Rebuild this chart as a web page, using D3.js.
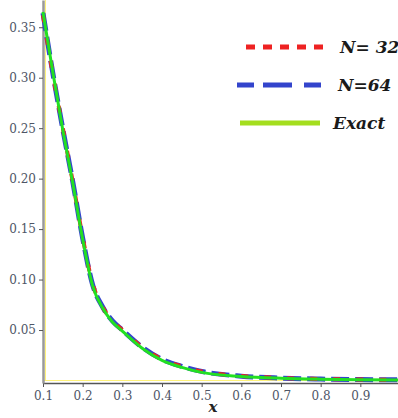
<!DOCTYPE html>
<html>
<head>
<meta charset="utf-8">
<script src="https://cdn.jsdelivr.net/npm/d3@7"></script>
<style>
  body { margin: 0; background: #fff; }
  svg { display: block; }
</style>
</head>
<body>
<div id="chart"></div>
<script>
// values
const xs = [0.1, 0.125, 0.15, 0.175, 0.2, 0.225, 0.25, 0.275, 0.3, 0.35, 0.4, 0.45, 0.5, 0.6, 0.7, 0.8, 0.9, 1.0];
const exact = [0.365, 0.305, 0.248, 0.196, 0.140, 0.094, 0.072, 0.058, 0.049, 0.032, 0.020, 0.013, 0.008, 0.004, 0.0022, 0.0013, 0.0008, 0.0005];
const n32 = [0.362, 0.303, 0.250, 0.197, 0.142, 0.096, 0.073, 0.059, 0.050, 0.033, 0.021, 0.014, 0.009, 0.0045, 0.0025, 0.0015, 0.001, 0.0006];
const n64 = [0.364, 0.304, 0.249, 0.197, 0.141, 0.095, 0.073, 0.059, 0.050, 0.033, 0.021, 0.014, 0.009, 0.0043, 0.0024, 0.0014, 0.0009, 0.0006];
const xTicks = [0.1, 0.2, 0.3, 0.4, 0.5, 0.6, 0.7, 0.8, 0.9, 1.0];
const yTicks = [0.05, 0.10, 0.15, 0.20, 0.25, 0.30, 0.35];
const seriesNames = ['N= 32', 'N=64', 'Exact'];

const width = 398, height = 418;
const serif = '"DejaVu Serif", serif';

const svg = d3.select('#chart').append('svg')
  .attr('width', width)
  .attr('height', height);

const x = d3.scaleLinear().domain([0.1, 1.0]).range([43, 400]);
const y = d3.scaleLinear().domain([-0.0025, 0.377]).range([383, 0]);

// faint yellow guide lines hugging the axes
svg.append('line')
  .attr('x1', x(0.1) + 2.5).attr('x2', x(0.1) + 2.5)
  .attr('y1', 0).attr('y2', y(0))
  .attr('stroke', '#fff27a').attr('stroke-width', 1);
svg.append('line')
  .attr('x1', x(0.1)).attr('x2', width)
  .attr('y1', y(0)).attr('y2', y(0))
  .attr('stroke', '#fff27a').attr('stroke-width', 1.2);

// axes
const xAxis = d3.axisBottom(x).tickValues(xTicks)
  .tickFormat(d => d < 1 ? d3.format('.1f')(d) : '')
  .tickSize(4).tickSizeOuter(0);
const gx = svg.append('g')
  .attr('transform', `translate(0, ${y.range()[0]})`)
  .call(xAxis);

const yAxis = d3.axisLeft(y).tickValues(yTicks).tickFormat(d3.format('.2f')).tickSize(4).tickSizeOuter(0);
const gy = svg.append('g')
  .attr('transform', `translate(${x(0.1)}, 0)`)
  .call(yAxis);

gx.select('.domain').attr('stroke', '#555').attr('stroke-width', 1.5);
gy.select('.domain').attr('stroke', '#999').attr('stroke-width', 2.5);
[gx, gy].forEach(g => {
  g.attr('font-family', serif).attr('font-size', 12);
  g.selectAll('.tick line').attr('stroke', '#555');
  g.selectAll('.tick text')
    .attr('fill', '#4e5566')
    .style('font-family', serif);
});
gx.selectAll('.tick text').attr('dy', '0.8em');

svg.append('text')
  .attr('x', 213).attr('y', 412)
  .attr('text-anchor', 'middle')
  .style('font-family', serif)
  .attr('font-weight', 'bold').attr('font-style', 'italic')
  .attr('font-size', 15)
  .attr('fill', '#222')
  .text('x');

// curves
const line = d3.line().x(d => x(d[0])).y(d => y(d[1])).curve(d3.curveMonotoneX);
const pairs = v => xs.map((d, i) => [d, v[i]]);

svg.append('path')
  .datum(pairs(n64))
  .attr('d', line)
  .attr('fill', 'none').attr('stroke', '#3344cc').attr('stroke-width', 5)
  .attr('stroke-dasharray', '18,6');

svg.append('path')
  .datum(pairs(n32))
  .attr('d', line)
  .attr('fill', 'none').attr('stroke', '#ee2222').attr('stroke-width', 4)
  .attr('stroke-dasharray', '7,16');

svg.append('path')
  .datum(pairs(exact))
  .attr('d', line)
  .attr('fill', 'none').attr('stroke', '#22e022').attr('stroke-width', 3);

// legend
const legend = [
  { name: seriesNames[0], color: '#ee2222', dash: '9,8', x1: 246, x2: 326, w: 5 },
  { name: seriesNames[1], color: '#3344cc', dash: '17,9,29,12', x1: 237, x2: 326, w: 5 },
  { name: seriesNames[2], color: '#a4de1e', dash: null, x1: 240, x2: 320, w: 5 }
];
const ly = [47, 85, 123];
const lg = svg.append('g');
legend.forEach((d, i) => {
  lg.append('line')
    .attr('x1', d.x1).attr('x2', d.x2)
    .attr('y1', ly[i]).attr('y2', ly[i])
    .attr('stroke', d.color).attr('stroke-width', d.w)
    .attr('stroke-dasharray', d.dash);
  lg.append('text')
    .attr('x', [340, 338, 333][i]).attr('y', ly[i] + 6)
    .style('font-family', serif)
    .attr('font-weight', 'bold').attr('font-style', 'italic')
    .attr('font-size', 17)
    .attr('fill', '#1a1a1a')
    .text(d.name);
});
</script>
</body>
</html>
